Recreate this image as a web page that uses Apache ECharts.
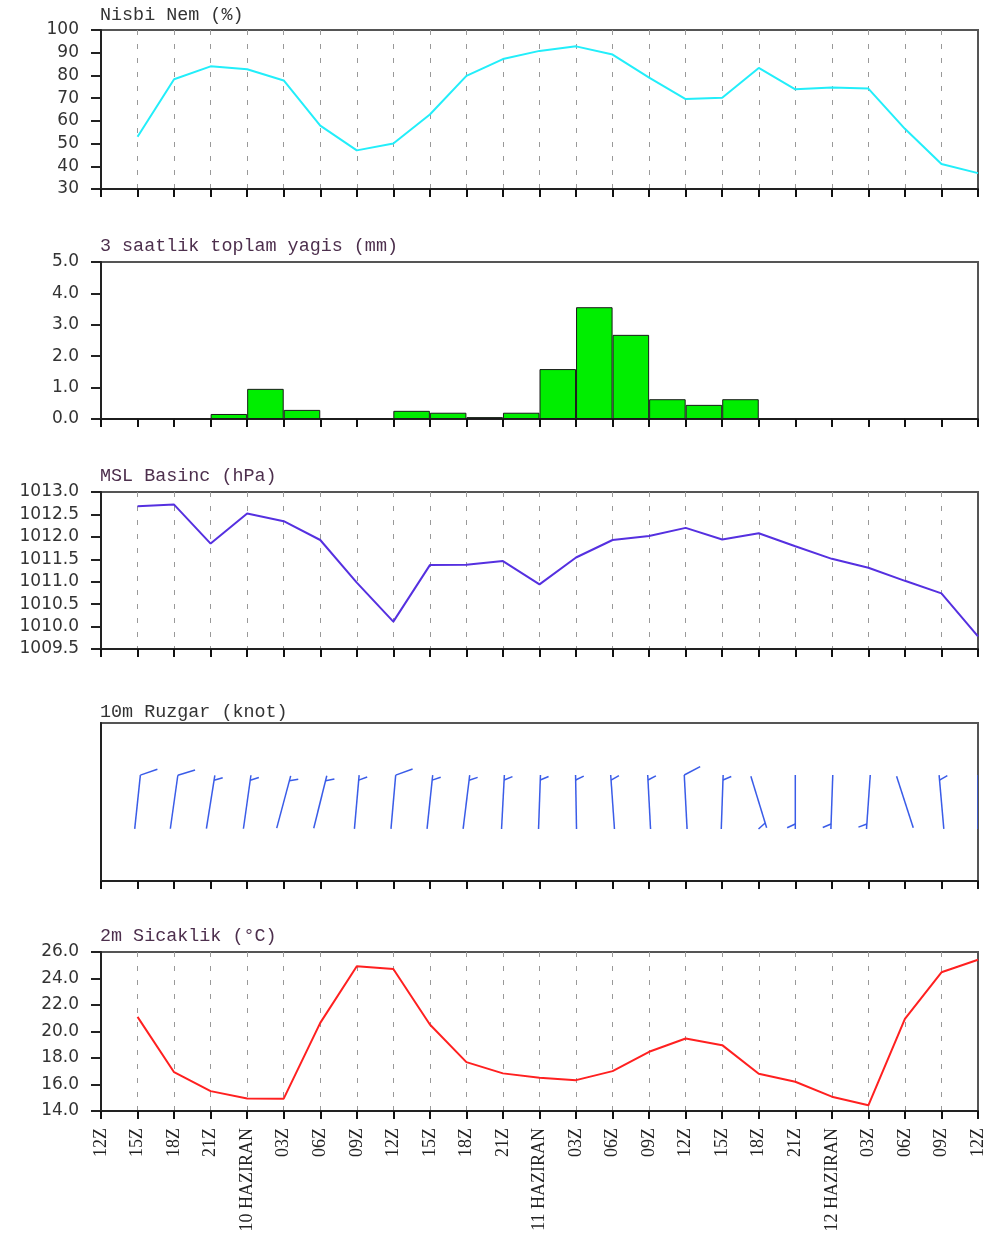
<!DOCTYPE html>
<html>
<head>
<meta charset="utf-8">
<script src="https://cdn.jsdelivr.net/npm/echarts@6.0.0/dist/echarts.min.js"></script>
<style>
html, body { margin: 0; padding: 0; background: #fff; }
#meteogram { width: 998px; height: 1247px; }
</style>
</head>
<body>
<div id="meteogram"></div>
<script>
// time steps, every 3 hours
const tickLabels = ['12Z', '15Z', '18Z', '21Z', '10 HAZIRAN', '03Z', '06Z', '09Z',
    '12Z', '15Z', '18Z', '21Z', '11 HAZIRAN', '03Z', '06Z', '09Z',
    '12Z', '15Z', '18Z', '21Z', '12 HAZIRAN', '03Z', '06Z', '09Z', '12Z']

const humidity = [null, 53, 78.3, 84, 82.7, 77.8, 57.9, 47, 50, 62.8, 79.8, 87.2, 90.8,
    92.8, 89.2, 79, 69.6, 70.2, 83.3, 73.9, 74.7, 74.2, 56.5, 41, 37]

// 3-hour totals, one per interval between two ticks
const rain = [0, 0, 0, 0.16, 0.96, 0.29, 0, 0, 0.26, 0.2, 0.06, 0.2, 1.59, 3.56, 2.68,
    0.63, 0.45, 0.63, 0, 0, 0, 0, 0, 0]

const pressure = [null, 1012.68, 1012.72, 1011.85, 1012.52, 1012.35, 1011.93, 1010.98,
    1010.11, 1011.37, 1011.38, 1011.46, 1010.94, 1011.54, 1011.93, 1012.02, 1012.2,
    1011.94, 1012.08, 1011.79, 1011.51, 1011.31, 1011.02, 1010.74, 1009.78]

// wind direction (deg, from) and speed (knot)
const windDir = [null, 6, 8, 9, 8, 15, 14, 5, 5, 6, 7, 3, 2, 359, 356, 357, 357, 2,
    163, 180, 182, 184, 162, 355, 0]
const windSpeed = [null, 10, 10, 5, 5, 5, 5, 5, 10, 5, 5, 5, 5, 5, 5, 5, 10, 5,
    5, 5, 5, 5, 2, 5, 5]

const temperature = [null, 21.1, 16.93, 15.5, 14.95, 14.93, 20.65, 24.92, 24.72, 20.53,
    17.69, 16.84, 16.51, 16.33, 17.01, 18.47, 19.47, 18.97, 16.81, 16.21, 15.08,
    14.43, 20.95, 24.47, 25.42]

const titleColor = '#4d2f4d'
const titleFont = 'Liberation Mono'

function pairs(arr) {
    return arr.map(function (v, i) { return [i, v] })
}

function titleOf(text, top, color) {
    return {
        text: text,
        left: 100,
        top: top,
        padding: 0,
        textStyle: { fontFamily: titleFont, fontSize: 18.4, fontWeight: 'normal', color: color }
    }
}

function timeAxis(gridIndex, dashed, showLabels) {
    return {
        type: 'value',
        gridIndex: gridIndex,
        min: 0,
        max: 24,
        interval: 1,
        axisLine: { show: true, lineStyle: { color: '#222', width: 2 } },
        axisTick: { show: true, length: 8, lineStyle: { color: '#111', width: 2 } },
        axisLabel: showLabels ? {
            show: true,
            rotate: 90,
            margin: 17,
            fontFamily: 'Liberation Serif',
            fontSize: 18,
            color: '#222',
            formatter: function (v) { return tickLabels[v] }
        } : { show: false },
        splitLine: {
            show: dashed,
            showMinLine: false,
            showMaxLine: false,
            lineStyle: { color: '#999', type: [5, 9], width: 1 }
        }
    }
}

function levelAxis(gridIndex, min, max, interval, digits) {
    return {
        type: 'value',
        gridIndex: gridIndex,
        min: min,
        max: max,
        interval: interval,
        axisLine: { show: true, lineStyle: { color: '#222', width: 2 } },
        axisTick: { show: true, length: 10, lineStyle: { color: '#222', width: 2 } },
        axisLabel: {
            margin: 22,
            fontFamily: 'DejaVu Sans',
            fontSize: 17,
            color: '#333',
            formatter: function (v) { return v.toFixed(digits) }
        },
        splitLine: { show: false }
    }
}

// wind barb drawn around the station point
function renderBarb(params, api) {
    var dir = api.value(1)
    var spd = api.value(2)
    var c = api.coord([api.value(0), 0.5])
    var rad = dir * Math.PI / 180
    var ux = Math.sin(rad), uy = -Math.cos(rad)
    var px = -uy, py = ux
    var half = 27
    var tip = [c[0] + ux * half, c[1] + uy * half]
    var tail = [c[0] - ux * half, c[1] - uy * half]
    var a = 25 * Math.PI / 180
    var bx = px * Math.cos(a) + ux * Math.sin(a)
    var by = py * Math.cos(a) + uy * Math.sin(a)
    var style = { stroke: '#3a5ce8', lineWidth: 1.5 }
    var kids = [{
        type: 'line',
        shape: { x1: tail[0], y1: tail[1], x2: tip[0], y2: tip[1] },
        style: style
    }]
    var full = Math.floor(spd / 10)
    var halves = Math.round((spd - full * 10) / 5)
    var pos = 0
    for (var i = 0; i < full; i++) {
        var sx = tip[0] - ux * pos, sy = tip[1] - uy * pos
        kids.push({ type: 'line', shape: { x1: sx, y1: sy, x2: sx + bx * 18, y2: sy + by * 18 }, style: style })
        pos += 5
    }
    if (halves > 0) {
        if (pos === 0) pos = 5
        var hx = tip[0] - ux * pos, hy = tip[1] - uy * pos
        kids.push({ type: 'line', shape: { x1: hx, y1: hy, x2: hx + bx * 9, y2: hy + by * 9 }, style: style })
    }
    return { type: 'group', children: kids }
}

var windData = []
windDir.forEach(function (d, i) {
    if (d !== null) windData.push([i, d, windSpeed[i]])
})

var chart = echarts.init(document.getElementById('meteogram'))

var gridBox = { show: true, left: 101, right: 20, borderColor: '#555', borderWidth: 2, backgroundColor: '#fff' }

var option = {
    animation: false,
    backgroundColor: '#fff',
    title: [
        titleOf('Nisbi Nem (%)', 6, '#333'),
        titleOf('3 saatlik toplam yagis (mm)', 237, titleColor),
        titleOf('MSL Basinc (hPa)', 467, titleColor),
        titleOf('10m Ruzgar (knot)', 703, '#333'),
        titleOf('2m Sicaklik (°C)', 927, titleColor)
    ],
    grid: [
        Object.assign({ top: 30, height: 159 }, gridBox),
        Object.assign({ top: 262, height: 157 }, gridBox),
        Object.assign({ top: 492, height: 157 }, gridBox),
        Object.assign({ top: 723, height: 158 }, gridBox),
        Object.assign({ top: 952, height: 159 }, gridBox)
    ],
    xAxis: [
        timeAxis(0, true, false),
        {
            type: 'category',
            gridIndex: 1,
            data: rain.map(function (v, i) { return 'p' + i }),
            boundaryGap: true,
            axisLine: { show: true, lineStyle: { color: '#222', width: 2 } },
            axisTick: { show: true, interval: 0, length: 8, lineStyle: { color: '#111', width: 2 } },
            axisLabel: { show: false },
            splitLine: { show: false }
        },
        timeAxis(2, true, false),
        timeAxis(3, false, false),
        timeAxis(4, true, true)
    ],
    yAxis: [
        levelAxis(0, 30, 100, 10, 0),
        levelAxis(1, 0, 5, 1, 1),
        levelAxis(2, 1009.5, 1013, 0.5, 1),
        {
            type: 'value', gridIndex: 3, min: 0, max: 1,
            axisLine: { show: true, lineStyle: { color: '#222', width: 2 } },
            axisTick: { show: false }, axisLabel: { show: false }, splitLine: { show: false }
        },
        levelAxis(4, 14, 26, 2, 1)
    ],
    series: [
        {
            type: 'line', xAxisIndex: 0, yAxisIndex: 0,
            data: pairs(humidity), symbol: 'none',
            lineStyle: { color: '#22eefa', width: 2 }
        },
        {
            type: 'bar', xAxisIndex: 1, yAxisIndex: 1,
            data: rain, barCategoryGap: '0%',
            itemStyle: { color: '#00ee00', borderColor: '#1a1a1a', borderWidth: 1 }
        },
        {
            type: 'line', xAxisIndex: 2, yAxisIndex: 2,
            data: pairs(pressure), symbol: 'none',
            lineStyle: { color: '#5530e0', width: 2 }
        },
        {
            type: 'custom', xAxisIndex: 3, yAxisIndex: 3,
            data: windData, renderItem: renderBarb, clip: true
        },
        {
            type: 'line', xAxisIndex: 4, yAxisIndex: 4,
            data: pairs(temperature), symbol: 'none',
            lineStyle: { color: '#ff2020', width: 2 }
        }
    ]
}

chart.setOption(option)
</script>
</body>
</html>
